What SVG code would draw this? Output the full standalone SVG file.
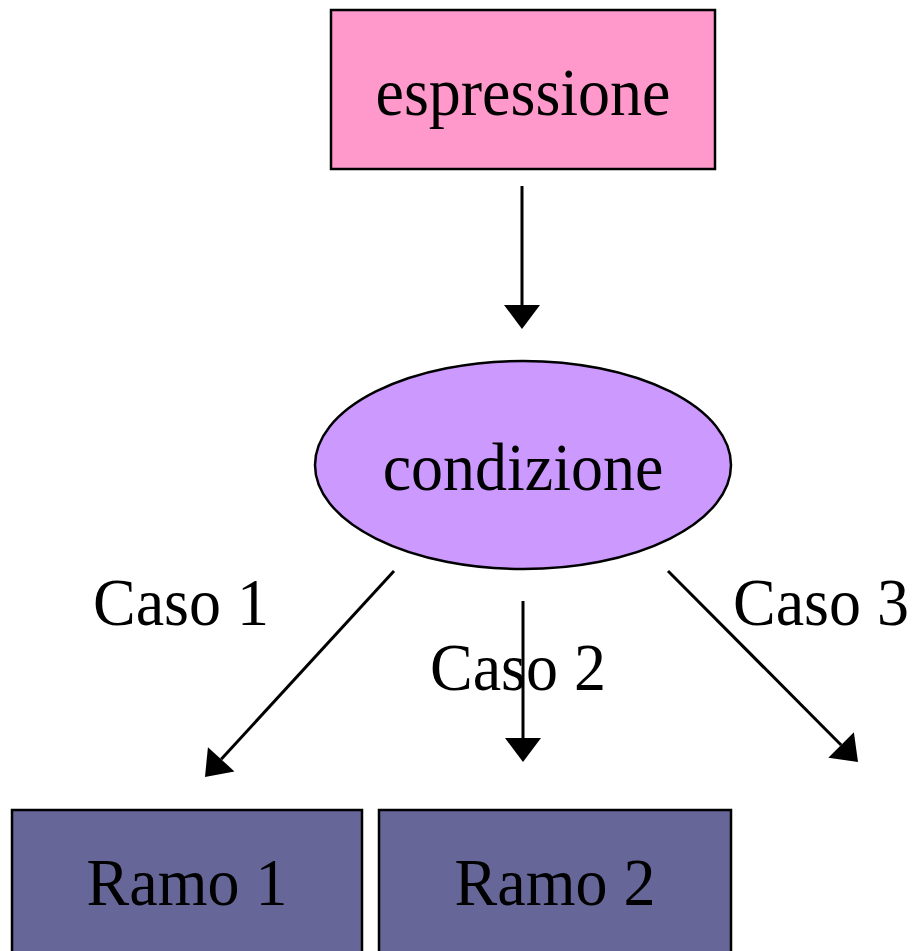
<svg xmlns="http://www.w3.org/2000/svg" width="914" height="951" viewBox="0 0 914 951">
  <style>
    .box { stroke: #000; stroke-width: 2.5; }
    .lbl { font-family: "Liberation Serif", "Times New Roman", serif; font-size: 64px; fill: #000; text-anchor: middle; }
    .edge { stroke: #000; stroke-width: 3; fill: none; marker-end: url(#head); }
  </style>
  <defs>
    <marker id="head" markerUnits="userSpaceOnUse" markerWidth="26" markerHeight="38" refX="0" refY="18" orient="auto" viewBox="0 0 26 36" overflow="visible">
      <path d="M0,0 L24,18 L0,36 Z" fill="#000"/>
    </marker>
  </defs>
  <rect width="914" height="951" fill="#fff"/>

  <g id="espressione">
    <rect class="box" x="331" y="10" width="384" height="159" fill="#FF99CC"/>
    <text class="lbl" transform="translate(523,115) scale(1,1.07)">espressione</text>
  </g>

  <g id="condizione">
    <ellipse class="box" cx="523" cy="465" rx="208" ry="104" fill="#CC99FF"/>
    <text class="lbl" transform="translate(523,490) scale(1,1.07)">condizione</text>
  </g>

  <g id="ramo1">
    <rect class="box" x="12" y="810" width="350" height="160" fill="#666699"/>
    <text class="lbl" transform="translate(187,905) scale(1,1.07)">Ramo 1</text>
  </g>

  <g id="ramo2">
    <rect class="box" x="379" y="810" width="352" height="160" fill="#666699"/>
    <text class="lbl" transform="translate(555,905) scale(1,1.07)">Ramo 2</text>
  </g>

  <g id="connectors">
    <line class="edge" x1="522" y1="186" x2="522" y2="305"/>
    <line class="edge" x1="394" y1="571" x2="221.2" y2="759.3"/>
    <line class="edge" x1="523" y1="601" x2="523" y2="738"/>
    <line class="edge" x1="668" y1="571" x2="841.1" y2="745"/>
    <text class="lbl" transform="translate(181,625) scale(1,1.07)">Caso 1</text>
    <text class="lbl" transform="translate(518,690) scale(1,1.07)">Caso 2</text>
    <text class="lbl" transform="translate(821,625) scale(1,1.07)">Caso 3</text>
  </g>
</svg>
